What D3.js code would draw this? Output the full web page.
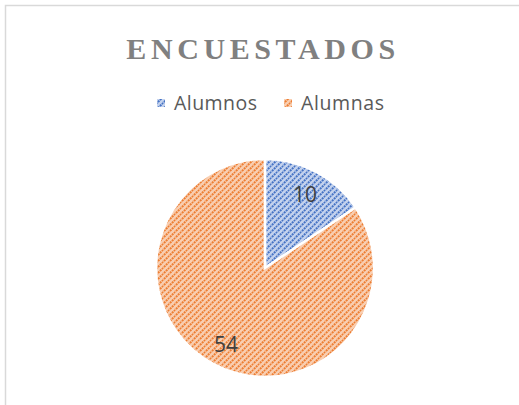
<!DOCTYPE html>
<html>
<head>
<meta charset="utf-8">
<script src="https://cdn.jsdelivr.net/npm/d3@7"></script>
<style>
  body { margin: 0; background: #fff; }
  svg { display: block; }
</style>
</head>
<body>
<svg id="chart"></svg>
<script>
const categories = ["Alumnos", "Alumnas"];
const values = [10, 54];
const baseColours = ["#4472C4", "#ED7D31"];
const lightColours = ["#c5d3ee", "#f9cfb2"];

const width = 519, height = 405;
const svg = d3.select("#chart").attr("width", width).attr("height", height);

// chart border (only top and left visible in the crop)
svg.append("path")
  .attr("d", `M5.5,${height} V5.5 H${width}`)
  .attr("fill", "none")
  .attr("stroke", "#d9d9d9")
  .attr("stroke-width", 1.5);

// striped patterns
const defs = svg.append("defs");
categories.forEach((c, i) => {
  const p = defs.append("pattern")
    .attr("id", "pat" + i)
    .attr("patternUnits", "userSpaceOnUse")
    .attr("width", 6).attr("height", 6);
  p.append("rect").attr("width", 6).attr("height", 6).attr("fill", lightColours[i]);
  p.append("path")
    .attr("d", "M-1,7 L7,-1 M-4,4 L4,-4 M2,10 L10,2")
    .attr("stroke", baseColours[i])
    .attr("stroke-width", 2)
    .attr("stroke-dasharray", "2,0.8");
});

// title
svg.append("text")
  .attr("x", 263).attr("y", 59)
  .attr("text-anchor", "middle")
  .attr("font-family", "'Liberation Serif', serif")
  .attr("font-weight", "bold")
  .attr("font-size", 30)
  .attr("letter-spacing", 4.6)
  .attr("fill", "#808080")
  .text("ENCUESTADOS");

// legend
const legendX = [157, 284];
const legend = svg.append("g");
categories.forEach((c, i) => {
  const g = legend.append("g").attr("transform", `translate(${legendX[i]},103)`);
  g.append("rect").attr("x", 0).attr("y", -4).attr("width", 8).attr("height", 8)
    .attr("fill", `url(#pat${i})`);
  g.append("text").attr("x", 17).attr("y", 7)
    .attr("font-family", "'Open Sans', sans-serif")
    .attr("font-size", 19.5)
    .attr("textLength", 83)
    .attr("fill", "#595959")
    .text(c);
});

// pie
const cx = 265, cy = 268, r = 109;
const pie = d3.pie().sort(null)(values);
const arc = d3.arc().innerRadius(0).outerRadius(r);
const g = svg.append("g").attr("transform", `translate(${cx},${cy})`);
g.selectAll("path.slice")
  .data(pie)
  .join("path")
  .attr("class", "slice")
  .attr("d", arc)
  .attr("fill", (d, i) => `url(#pat${i})`)
  .attr("stroke", "#fff")
  .attr("stroke-width", 2.5);

const labelPos = [[40, -73], [-39, 77]];
g.selectAll("text.lbl")
  .data(pie)
  .join("text")
  .attr("class", "lbl")
  .attr("transform", (d, i) => `translate(${labelPos[i][0]},${labelPos[i][1]})`)
  .attr("text-anchor", "middle")
  .attr("dy", "0.35em")
  .attr("font-family", "'Open Sans', sans-serif")
  .attr("font-size", 21)
  .attr("fill", "#404040")
  .text(d => d.data);
</script>
</body>
</html>
